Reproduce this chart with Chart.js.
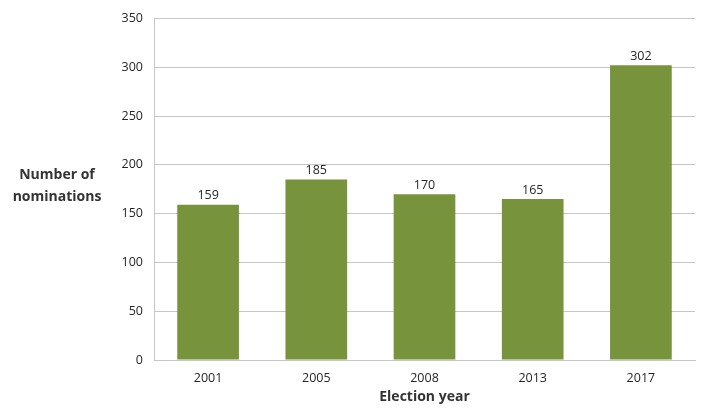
<!DOCTYPE html>
<html>
<head>
<meta charset="utf-8">
<script src="https://cdn.jsdelivr.net/npm/chart.js@4"></script>
<style>
  html, body { margin: 0; padding: 0; background: #fff; }
  #wadah { width: 705px; height: 408px; }
</style>
</head>
<body>
<div id="wadah"><canvas id="grafik"></canvas></div>
<script>
// data dari gambar
const tahunPemilu = ['2001', '2005', '2008', '2013', '2017'];
const jumlahNominasi = [159, 185, 170, 165, 302];
const judulSumbuY = ['Number of', 'nominations'];
const judulSumbuX = 'Election year';

const warnaBatang = '#77933C';
const warnaGaris = '#C6C6C6';
const warnaTeks = '#262626';
const hurufDasar = "'Open Sans', 'Liberation Sans', sans-serif";

// tulis angka di atas batang + judul sumbu (mendatar)
const pluginTeks = {
  id: 'pluginTeks',
  afterDatasetsDraw(chart) {
    const ctx = chart.ctx;
    const area = chart.chartArea;
    ctx.save();
    ctx.fillStyle = warnaTeks;
    ctx.font = "12.5px " + hurufDasar;
    ctx.textAlign = 'center';
    ctx.textBaseline = 'middle';
    chart.getDatasetMeta(0).data.forEach(function (batang, i) {
      ctx.fillText(String(jumlahNominasi[i]), batang.x, batang.y - 9);
    });

    ctx.font = "bold 14px " + hurufDasar;
    ctx.fillStyle = '#333';
    ctx.fillText(judulSumbuY[0], 57, 175);
    ctx.fillText(judulSumbuY[1], 57, 197);
    ctx.fillText(judulSumbuX, (area.left + area.right) / 2, 397);
    ctx.restore();
  }
};

new Chart(document.getElementById('grafik'), {
  type: 'bar',
  data: {
    labels: tahunPemilu,
    datasets: [{
      data: jumlahNominasi,
      backgroundColor: warnaBatang,
      barPercentage: 0.57,
      categoryPercentage: 1
    }]
  },
  options: {
    responsive: true,
    maintainAspectRatio: false,
    animation: false,
    layout: { padding: { top: 17, right: 10, left: 0, bottom: 0 } },
    plugins: {
      legend: { display: false },
      tooltip: { enabled: false }
    },
    scales: {
      x: {
        grid: { display: false, drawTicks: false },
        border: { display: true, color: warnaGaris, width: 1 },
        ticks: { color: warnaTeks, font: { size: 12.5, family: hurufDasar }, padding: 11 },
        afterFit(skala) { skala.height = 48; }
      },
      y: {
        min: 0,
        max: 350,
        ticks: { stepSize: 50, color: warnaTeks, font: { size: 12.5, family: hurufDasar }, padding: 11 },
        grid: { color: warnaGaris, drawTicks: false },
        border: { display: true, color: warnaGaris },
        afterFit(skala) { skala.width = 154; }
      }
    }
  },
  plugins: [pluginTeks]
});
</script>
</body>
</html>
